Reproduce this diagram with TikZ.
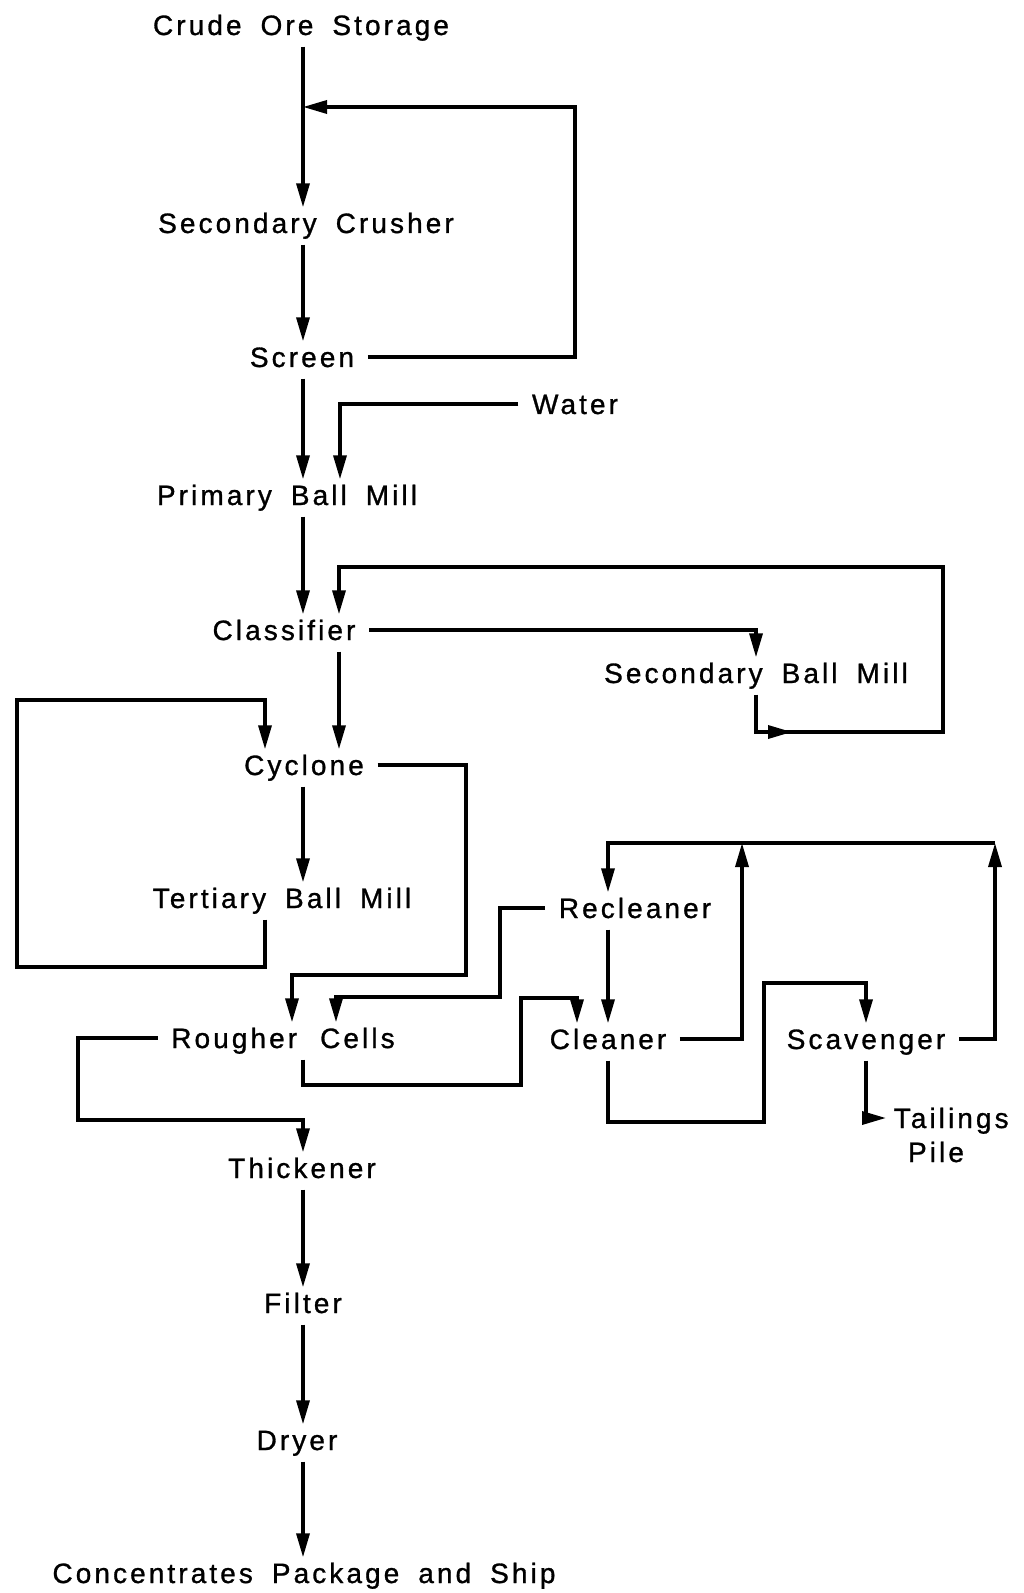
\documentclass[tikz,border=0pt]{standalone}
\usepackage{fontspec}
\setmainfont[LetterSpace=11, WordSpace=1.75, FakeBold=1]{Liberation Sans}
\usetikzlibrary{arrows.meta}

\begin{document}
\begin{tikzpicture}[x=0.5pt, y=-0.5pt, line width=1.7pt,
    unit/.style={inner xsep=3pt, inner ysep=2pt, text height=10pt, text depth=0pt,
        font=\fontsize{14}{16}\selectfont},
    flowhead/.style={-{Triangle[length=12pt,width=6.5pt]}},
    flow/.style={flowhead, shorten <=3pt}]
    \useasboundingbox (0,0) rectangle (1023,1593);

    \node[unit] (crude) at (301,25) {Crude Ore Storage};
    \node[unit] (crusher) at (306,223) {Secondary Crusher};
    \node[unit] (screen) at (302,357) {Screen};
    \node[unit] (water) at (575,404) {Water};
    \node[unit] (pbm) at (287,495) {Primary Ball Mill};
    \node[unit] (classifier) at (284,630) {Classifier};
    \node[unit] (sbm) at (756,673) {Secondary Ball Mill};
    \node[unit] (cyclone) at (304,765) {Cyclone};
    \node[unit] (tbm) at (282,898) {Tertiary Ball Mill};
    \node[unit] (recleaner) at (635,908) {Recleaner};
    \node[unit] (rougher) at (283,1038) {Rougher\hspace{2pt} Cells};
    \node[unit] (cleaner) at (608,1039) {Cleaner};
    \node[unit] (scavenger) at (866,1039) {Scavenger};
    \node[unit, anchor=west] (tailings) at (886,1118) {Tailings};
    \node[unit] (pile) at (936,1152) {Pile};
    \node[unit] (thickener) at (302,1168) {Thickener};
    \node[unit] (filter) at (303,1303) {Filter};
    \node[unit] (dryer) at (297,1440) {Dryer};
    \node[unit] (ship) at (304,1573) {Concentrates Package and Ship};

    \coordinate (spine) at (303,0);
    \coordinate (inner) at (339,0);
    \coordinate (wdrop) at (340,0);
    \coordinate (scrtop) at (575,107);
    \coordinate (sbmout) at (756,732);
    \coordinate (sbmtop) at (943,567);
    \coordinate (tbmx) at (265,0);
    \coordinate (tbmlow) at (17,967);
    \coordinate (tbmtop) at (17,700);
    \coordinate (cycdrop) at (466,975);
    \coordinate (rin) at (292,0);
    \coordinate (rthick) at (78,1120);
    \coordinate (rc1) at (521,1085);
    \coordinate (rc2) at (577,998);
    \coordinate (rcl) at (500,997);
    \coordinate (rcin) at (336,0);
    \coordinate (topL) at (608,843);
    \coordinate (topM) at (742,843);
    \coordinate (topR) at (995,843);
    \coordinate (cs1) at (764,1122);
    \coordinate (cs2) at (866,983);

    \draw[flow] (crude.south -| spine) -- (crusher.north -| spine);
    \draw[flow] (crusher.south -| spine) -- (screen.north -| spine);
    \draw[flow] (screen.east) -| (scrtop) -- (scrtop -| spine);
    \draw[flow] (screen.south -| spine) -- (pbm.north -| spine);
    \draw[flow] (water.west) -| (pbm.north -| wdrop);
    \draw[flow] (pbm.south -| spine) -- (classifier.north -| spine);
    \draw[flow] (classifier.east) -| (sbm.north);
    \draw[flow] (sbm.south) |- (sbmout -| sbmtop) -- (sbmtop) -| (classifier.north -| inner);
    \draw[flowhead] (sbmout) -- ++(36,0);
    \draw[flow] (classifier.south -| inner) -- (cyclone.north -| inner);
    \draw[flow] (cyclone.south -| spine) -- (tbm.north -| spine);
    \draw[flow] (tbm.south -| tbmx) |- (tbmlow) -- (tbmtop) -| (cyclone.north -| tbmx);
    \draw[flow] (cyclone.east) -| (cycdrop) -| (rougher.north -| rin);
    \draw[flow] (rougher.west) -| (rthick) -| (thickener.north -| spine);
    \draw[flow] (rougher.south -| spine) |- (rc1) |- (rc2) -- (cleaner.north -| rc2);
    \draw[flow] (recleaner.west) -| (rcl) -| (rougher.north -| rcin);
    \draw[flow] (recleaner.south -| topL) -- (cleaner.north);
    \draw[flow, shorten <=0pt] (topR) -- (topL) -- (recleaner.north -| topL);
    \draw[flow] (cleaner.east) -| (topM);
    \draw[flow] (scavenger.east) -| (topR);
    \draw[flow] (cleaner.south) |- (cs1) |- (cs2) -- (scavenger.north);
    \draw[flow] (scavenger.south) |- (tailings.west);
    \draw[flow] (thickener.south -| spine) -- (filter.north -| spine);
    \draw[flow] (filter.south -| spine) -- (dryer.north -| spine);
    \draw[flow] (dryer.south -| spine) -- (ship.north -| spine);
\end{tikzpicture}
\end{document}
